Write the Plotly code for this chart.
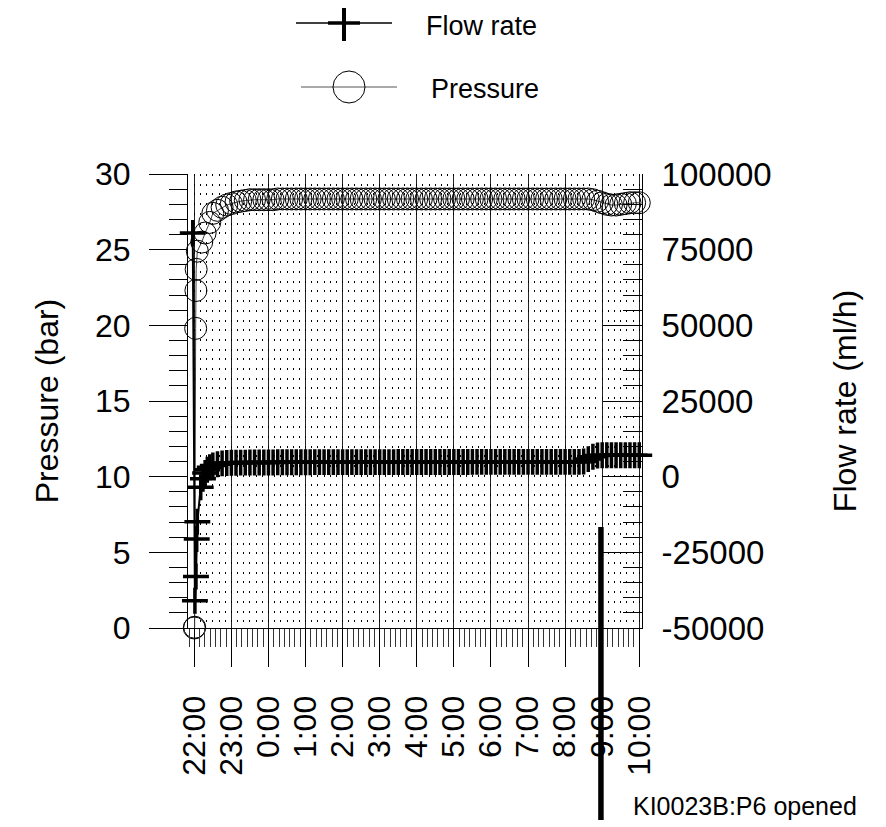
import pandas as pd
import plotly.graph_objects as go

# ---------------- data ----------------
START = pd.Timestamp("2023-01-01 22:00")
X_RANGE = ["2023-01-01 21:49:48", "2023-01-02 10:04:27"]
EVENT_TIME = "2023-01-02 08:58"
EVENT_LABEL = "KI0023B:P6 opened"

# fast transient right after start (minutes after 22:00)
p_start_min = [0.0, 0.6, 2.2, 2.6, 3.0, 4.9, 12.0, 17.5, 25.0, 30.0, 37.5, 45.0, 52.5]
p_start_val = [0.0, 0.05, 19.8, 22.3, 23.7, 24.9, 25.5, 26.1, 26.8, 27.4, 27.6, 27.8, 27.95]

f_start_min = [-2.5, 1.0, 2.7, 3.9, 4.9, 10.4, 14.0, 17.5, 21.0, 25.0, 30.0, 37.5, 45.0, 52.5]
f_start_val = [80500, -41000, -33000, -20600, -14900, -3500, -700, 1200, 2300, 3100,
               3700, 4100, 4400, 4500]

# regular logging every 7.5 min from 23:00 to 10:00
SAMPLE_FREQ = "450s"
p_steady = [
    28.05, 28.15, 28.2, 28.25, 28.3, 28.3, 28.3, 28.3,
    28.3, 28.3, 28.35, 28.35, 28.35, 28.35, 28.35, 28.35,
    28.35, 28.35, 28.35, 28.35, 28.35, 28.35, 28.35, 28.35,
    28.35, 28.35, 28.35, 28.35, 28.35, 28.35, 28.35, 28.35,
    28.35, 28.35, 28.35, 28.35, 28.35, 28.35, 28.35, 28.35,
    28.35, 28.35, 28.35, 28.35, 28.35, 28.35, 28.35, 28.35,
    28.35, 28.35, 28.35, 28.35, 28.35, 28.35, 28.35, 28.35,
    28.35, 28.35, 28.35, 28.35, 28.35, 28.35, 28.35, 28.35,
    28.35, 28.35, 28.35, 28.35, 28.35, 28.35, 28.35, 28.35,
    28.35, 28.35, 28.35, 28.35, 28.35, 28.35, 28.3, 28.2,
    28.1, 28.0, 27.95, 27.95, 28.0, 28.05, 28.1, 28.1, 28.1,
]
f_steady = [
    4600, 4600, 4650, 4650, 4700, 4700, 4700, 4700,
    4700, 4700, 4750, 4750, 4750, 4750, 4750, 4750,
    4750, 4750, 4800, 4800, 4800, 4800, 4800, 4800,
    4800, 4800, 4800, 4800, 4800, 4800, 4800, 4800,
    4800, 4800, 4800, 4800, 4850, 4850, 4850, 4850,
    4850, 4850, 4850, 4850, 4850, 4850, 4850, 4850,
    4850, 4850, 4850, 4850, 4900, 4900, 4900, 4900,
    4900, 4900, 4900, 4900, 4900, 4900, 4900, 4900,
    4900, 4900, 4900, 4900, 4900, 4900, 4900, 4900,
    4900, 4900, 4900, 4900, 5000, 5800, 6600, 7000,
    7100, 7100, 7100, 7100, 7100, 7100, 7100, 7100, 7100,
]

# right-axis tick values / labels
flow_tickvals = [-50000, -25000, 0, 25000, 50000, 75000, 100000]
flow_ticktext = ["-50000", "-25000", "0", "25000", "50000", "75000", "100000"]

steady_t = pd.date_range(START + pd.Timedelta(minutes=60), periods=len(p_steady), freq=SAMPLE_FREQ)
p_t = list(START + pd.to_timedelta(p_start_min, unit="min")) + list(steady_t)
p_v = p_start_val + p_steady
f_t = list(START + pd.to_timedelta(f_start_min, unit="min")) + list(steady_t)
f_v = f_start_val + f_steady

# ---------------- layout geometry ----------------
OFF = 8  # page body margin
W, H = 886, 827
L, T = 188 - OFF, 174 - OFF
PW, PH = 454, 454
R, B = W - L - PW, H - T - PH
FONT = "Liberation Sans, Arial, sans-serif"


def px_x(px):
    return (px - OFF - L) / PW


def px_y(py):
    return (T + PH - (py - OFF)) / PH


fig = go.Figure()
fig.add_trace(go.Scatter(
    x=p_t, y=p_v, name="Pressure", mode="lines+markers",
    line=dict(color="#444444", width=1),
    marker=dict(symbol="circle-open", size=22, color="black", line=dict(width=1, color="black")),
    cliponaxis=False, showlegend=False, hoverinfo="skip"))
fig.add_trace(go.Scatter(
    x=f_t, y=f_v, yaxis="y2", name="Flow rate", mode="lines+markers",
    line=dict(color="black", width=2),
    marker=dict(symbol="cross-thin", size=18.5, color="black", line=dict(width=3.5, color="black")),
    cliponaxis=False, showlegend=False, hoverinfo="skip"))
# carrier for the dotted 10-minute grid axis
fig.add_trace(go.Scatter(x=p_t, y=p_v, xaxis="x2", mode="none", showlegend=False, hoverinfo="skip"))

tickfont = dict(family=FONT, size=32, color="black")
legfont = dict(family=FONT, size=27, color="black")

shapes = [
    # event marker
    dict(type="line", xref="x", yref="paper", x0=EVENT_TIME, x1=EVENT_TIME,
         y0=px_y(820), y1=px_y(527), line=dict(color="black", width=5.5), layer="above"),
    # legend glyphs
    dict(type="line", xref="paper", yref="paper", x0=px_x(296), x1=px_x(392), y0=px_y(23), y1=px_y(23),
         line=dict(color="black", width=1.3)),
    dict(type="line", xref="paper", yref="paper", x0=px_x(328), x1=px_x(360), y0=px_y(23), y1=px_y(23),
         line=dict(color="black", width=3.5)),
    dict(type="line", xref="paper", yref="paper", x0=px_x(344), x1=px_x(344), y0=px_y(5), y1=px_y(41),
         line=dict(color="black", width=4)),
    dict(type="line", xref="paper", yref="paper", x0=px_x(301), x1=px_x(397), y0=px_y(87), y1=px_y(87),
         line=dict(color="#555555", width=1)),
    dict(type="circle", xref="paper", yref="paper", x0=px_x(333), x1=px_x(365), y0=px_y(103), y1=px_y(71),
         line=dict(color="black", width=1)),
]

annotations = [
    dict(text="Flow rate", xref="paper", yref="paper", x=px_x(424), y=px_y(26),
         xanchor="left", yanchor="middle", showarrow=False, font=legfont),
    dict(text="Pressure", xref="paper", yref="paper", x=px_x(429), y=px_y(89),
         xanchor="left", yanchor="middle", showarrow=False, font=legfont),
    dict(text=EVENT_LABEL, xref="x", yref="paper", x=EVENT_TIME, xshift=30, y=px_y(806),
         xanchor="left", yanchor="middle", showarrow=False, font=dict(family=FONT, size=25, color="black")),
]

fig.update_layout(
    width=W, height=H,
    margin=dict(l=L, r=R, t=T, b=B, autoexpand=False),
    paper_bgcolor="white", plot_bgcolor="white",
    font=dict(family=FONT, color="black"),
    showlegend=False,
    xaxis=dict(
        type="date", range=X_RANGE, tick0=START, dtick=3600000, tickformat="%-H:%M",
        tickangle=-90, tickfont=tickfont, ticklabelstandoff=16,
        ticks="outside", ticklen=38, tickwidth=1, tickcolor="black",
        showline=True, linecolor="black", linewidth=1,
        showgrid=True, gridcolor="#222222", gridwidth=1, zeroline=False,
        minor=dict(dtick=3600000 / 7, tick0=START, ticks="outside", ticklen=18,
                   tickwidth=1, tickcolor="#333333", showgrid=False),
        automargin=False,
    ),
    xaxis2=dict(
        type="date", range=X_RANGE, overlaying="x", anchor="y", tick0=START, dtick=600000,
        showgrid=True, griddash="2px,7.7px", gridcolor="black", gridwidth=1,
        showticklabels=False, ticks="", showline=False, zeroline=False,
    ),
    yaxis=dict(
        range=[0, 30], tick0=0, dtick=5, tickfont=tickfont, ticklabelstandoff=12,
        ticks="outside", ticklen=38, tickwidth=1, tickcolor="black",
        showline=True, linecolor="black", linewidth=1, showgrid=False, zeroline=False,
        minor=dict(dtick=1, ticks="outside", ticklen=18, tickwidth=1, tickcolor="black", showgrid=False),
        title=dict(text="Pressure (bar)", font=dict(family=FONT, size=32, color="black"), standoff=26),
        automargin=False,
    ),
    yaxis2=dict(
        overlaying="y", side="right", anchor="x", range=[-50000, 100000],
        tickmode="array", tickvals=flow_tickvals, ticktext=flow_ticktext,
        tickfont=dict(family=FONT, size=33, color="black"), ticklabelstandoff=12,
        ticks="inside", ticklen=39, tickwidth=1, tickcolor="black",
        showline=True, linecolor="black", linewidth=1, showgrid=False, zeroline=False,
        minor=dict(dtick=5000, tick0=0, ticks="inside", ticklen=19, tickwidth=1, tickcolor="black",
                   showgrid=False),
        title=dict(text="Flow rate (ml/h)", font=dict(family=FONT, size=32, color="black"), standoff=62),
        automargin=False,
    ),
    shapes=shapes,
    annotations=annotations,
)

fig.write_html("out.html")
